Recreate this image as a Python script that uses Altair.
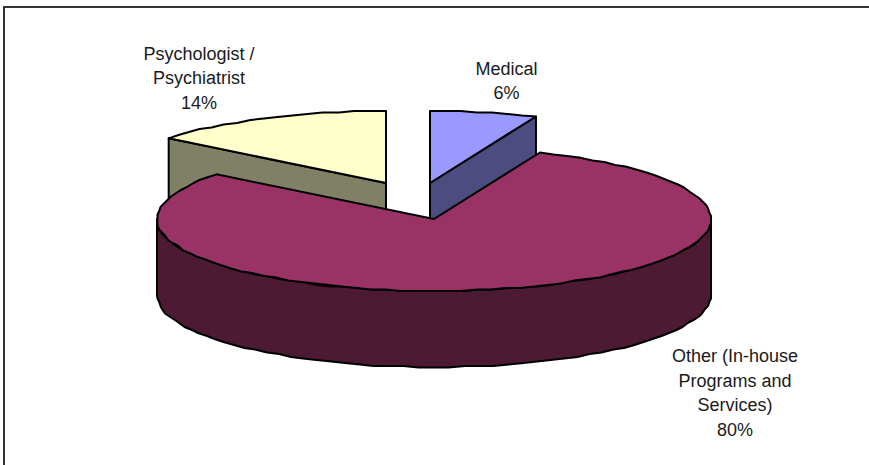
import math

import altair as alt
import pandas as pd

# Shares of the pie, clockwise from twelve o'clock
categories = ["Medical", "Other (In-house Programs and Services)", "Psychologist / Psychiatrist"]
shares = [6, 80, 14]
label_lines = [
    ["Medical", "6%"],
    ["Other (In-house", "Programs and", "Services)", "80%"],
    ["Psychologist /", "Psychiatrist", "14%"],
]
top_colors = ["#9999FF", "#993366", "#FFFFCC"]
side_colors = ["#4C4C80", "#4D1A33", "#808066"]

# Projected pie geometry in page pixels
W, H = 869, 465
RX, RY, DEPTH = 277, 72, 76
CENTERS = {0: (430, 183), 1: (434, 219), 2: (386, 183)}
LABEL_ANCHORS = {0: (506.5, 69.5), 1: (735, 357), 2: (199, 54.5)}
GRID = 1.5  # outline points snap to this raster, which gives the rim its slight ripple


def ellipse_point(center, deg, drop=0):
    # Small angular skew of the tilted projection; extremes of the ellipse stay put
    a = math.radians(deg + 1.3 * math.sin(math.radians(2 * deg)))
    x = center[0] + RX * math.sin(a)
    y = center[1] - RY * math.cos(a) + drop
    return (x, y)


def snap(point):
    return (round(point[0] / GRID) * GRID, round(point[1] / GRID) * GRID)


def rim(center, start, end, drop=0):
    steps = max(2, int(abs(end - start) / 3))
    pts = [ellipse_point(center, start + (end - start) * i / steps, drop) for i in range(steps + 1)]
    return [pts[0]] + [snap(p) for p in pts[1:-1]] + [pts[-1]]


def rows(points, layer, color):
    return [
        {"x": x, "y": y, "step": i, "piece": layer, "color": color}
        for i, (x, y) in enumerate(points + points[:1])
    ]


pieces = []
start = 0
spans = []
for share in shares:
    spans.append((start, start + share * 3.6))
    start += share * 3.6

# Back slices first, so the large slice overlaps their cut faces
layer = 0
for idx in (0, 2):
    a0, a1 = spans[idx]
    c = CENTERS[idx]
    face_end = a1 if idx == 0 else a0
    edge = ellipse_point(c, face_end)
    edge_low = ellipse_point(c, face_end, DEPTH)
    pieces += rows([c, edge, edge_low, (c[0], c[1] + DEPTH)], layer, side_colors[idx])
    layer += 1
    pieces += rows([c] + rim(c, a0, a1), layer, top_colors[idx])
    layer += 1

# Large slice: outer wall below the visible half of the rim, then its top
a0, a1 = spans[1]
c = CENTERS[1]
wall_top = rim(c, 90, 270)
wall_low = rim(c, 270, 90, DEPTH)
pieces += rows(wall_top + wall_low, layer, side_colors[1])
layer += 1
pieces += rows([c] + rim(c, a0, a1), layer, top_colors[1])

shapes = pd.DataFrame(pieces)

x_scale = alt.Scale(domain=[0, W], range=[0, W], nice=False, zero=False)
y_scale = alt.Scale(domain=[0, H], range=[0, H], nice=False, zero=False)

layers = []
for piece, group in shapes.groupby("piece"):
    layers.append(
        alt.Chart(group)
        .mark_line(fill=group["color"].iloc[0], stroke="#000000", strokeWidth=2, strokeJoin="round")
        .encode(
            x=alt.X("x:Q", scale=x_scale, axis=None),
            y=alt.Y("y:Q", scale=y_scale, axis=None),
            order="step:Q",
        )
    )

label_rows = []
for idx, lines in enumerate(label_lines):
    ax, ay = LABEL_ANCHORS[idx]
    for n, line in enumerate(lines):
        label_rows.append({"x": ax, "y": ay + n * 24.5, "text": line})

labels = (
    alt.Chart(pd.DataFrame(label_rows))
    .mark_text(font="Liberation Sans", fontSize=18, color="#1a1a1a", align="center", baseline="middle")
    .encode(
        x=alt.X("x:Q", scale=x_scale, axis=None),
        y=alt.Y("y:Q", scale=y_scale, axis=None),
        text="text:N",
    )
)

# Chart border: only the top and left edges fall inside the page
border = (
    alt.Chart(pd.DataFrame({"x": [4, 4, W], "y": [H, 7, 7], "step": [0, 1, 2]}))
    .mark_line(stroke="#333333", strokeWidth=2)
    .encode(
        x=alt.X("x:Q", scale=x_scale, axis=None),
        y=alt.Y("y:Q", scale=y_scale, axis=None),
        order="step:Q",
    )
)

chart = (
    alt.layer(border, *layers, labels)
    .properties(width=W, height=H, padding=0, autosize=alt.AutoSizeParams(type="none"), background="white")
    .configure_view(stroke=None)
)

chart.save("out.html", embed_options={"renderer": "svg", "actions": False})
